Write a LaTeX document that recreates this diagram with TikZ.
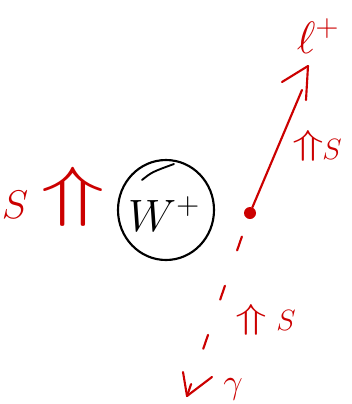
\RequirePackage{fix-cm}
\documentclass[tikz,border=0pt]{standalone}
\usetikzlibrary{shapes.geometric}
\begin{document}
\begin{tikzpicture}[x=0.75pt,y=-0.75pt,
  redline/.style={draw=red!80!black, line width=1.6pt, line cap=round, line join=round},
  redtxt/.style={text=red!80!black, inner sep=0pt},
  blk/.style={draw=black, line width=1.6pt}]
\fill[white] (0,0) rectangle (351,404);
\useasboundingbox (0,0) rectangle (351,404);
% left labels
\node[redtxt, font=\fontsize{30}{34}\selectfont] (S1) at (15,205) {$S$};
\node[redtxt, font=\fontsize{50}{54}\selectfont] (A1) at (73,197) {\scalebox{1.6}[1]{$\Uparrow$}};
% W boson circle
\node[blk, ellipse, minimum width=72pt, minimum height=75pt, inner sep=0pt] (W) at (166,210) {};
\node[inner sep=0pt, font=\fontsize{34}{38}\selectfont] (Wt) at (164,214) {$W^{+}$};
\draw[black, line width=1.4pt, line cap=round] (142,180) .. controls (152,172) .. (174,164);
% vertex dot
\node[circle, fill=red!80!black, minimum size=9pt, inner sep=0pt] (V) at (250,213) {};
% lepton arrow
\coordinate (Lend) at (302,90);
\coordinate (Ltip) at (308,66);
\draw[redline] (V) -- (Lend);
\draw[redline] (282,82) -- (Ltip) -- (306,100);
\node[redtxt, font=\fontsize{34}{38}\selectfont] (L) at (318,36) {$\ell^{+}$};
\node[redtxt, font=\fontsize{26}{30}\selectfont] (A2) at (308,146) {\scalebox{1.5}[1]{$\Uparrow$}};
\node[redtxt, font=\fontsize{22}{26}\selectfont] (S2) at (332,149) {$S$};
% photon dashed arrow
\coordinate (Gtip) at (187,396);
\draw[redline, dash pattern=on 11pt off 28pt, dash phase=-14pt] (V) -- (Gtip);
\draw[redline] (183,372) -- (Gtip) -- (212,377);
\node[redtxt, font=\fontsize{26}{30}\selectfont] (G) at (233,389) {$\gamma$};
\node[redtxt, font=\fontsize{26}{30}\selectfont] (A3) at (251,320) {\scalebox{1.5}[1]{$\Uparrow$}};
\node[redtxt, font=\fontsize{22}{26}\selectfont] (S3) at (286,320) {$S$};
\end{tikzpicture}
\end{document}
